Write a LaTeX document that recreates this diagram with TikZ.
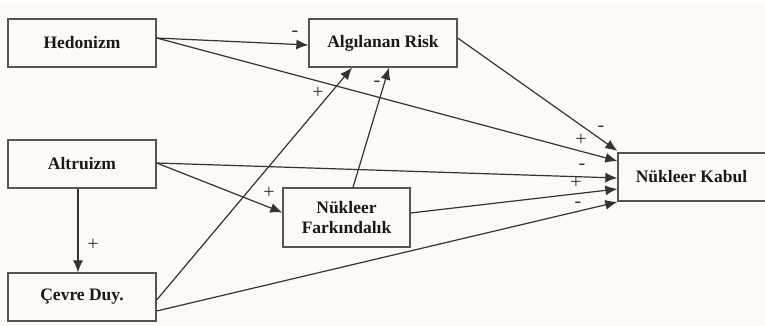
\documentclass[tikz,border=0pt]{standalone}
\usepackage{fontspec}
\setmainfont{Liberation Serif}
\usetikzlibrary{arrows.meta}
\definecolor{bgc}{HTML}{FCF9F7}
\definecolor{linec}{HTML}{333333}
\definecolor{boxc}{HTML}{555555}
\begin{document}
\begin{tikzpicture}[x=1pt,y=-1pt,
  box/.style={draw=boxc,line width=1.3pt,fill=bgc,minimum width=148pt,minimum height=48pt,inner sep=0pt,
    font=\bfseries\fontsize{17.5}{20}\selectfont,text=black!90,align=center},
  conn/.style={draw=linec,line width=1.2pt,-{Latex[length=12pt,width=10pt]}},
  sgn/.style={font=\fontsize{20}{20}\selectfont,text=black!80,inner sep=0pt}]
\fill[bgc] (0,0) rectangle (765,326);
\fill[white] (0,0) rectangle (765,4);
\useasboundingbox (0,0) rectangle (765,326);
\node[box] (hed) at (82,43) {Hedonizm};
\node[box] (risk) at (383,43) {Algılanan Risk};
\node[box] (alt) at (82,164) {Altruizm};
\node[box] (cev) at (82,297) {Çevre Duy.};
\node[box,minimum width=127pt,minimum height=59pt] (fark) at (346.5,217.5) {Nükleer\\Farkındalık};
\node[box,minimum width=152pt] (kab) at (694,177) {\hspace*{-5pt}Nükleer Kabul};
% connectors
\draw[conn] ([yshift=5pt]hed.east) -- ([yshift=-2pt]risk.west);
\draw[conn] ([yshift=5pt]hed.east) -- ([yshift=16pt]kab.west);
\draw[conn] ([yshift=5pt]risk.east) -- ([yshift=26pt]kab.west);
\draw[conn] ([yshift=1pt]alt.east) -- ([yshift=-1pt]kab.west);
\draw[conn] ([yshift=1pt]alt.east) -- ([yshift=5pt]fark.west);
\draw[conn] ([xshift=-4pt]alt.south) -- ([xshift=-4pt]cev.north);
\draw[conn] ([yshift=-3pt]cev.east) -- ([xshift=-31pt]risk.south);
\draw[conn] ([yshift=-14pt]cev.east) -- ([yshift=-25pt]kab.west);
\draw[conn] ([xshift=6.5pt]fark.north) -- ([xshift=6pt]risk.south);
\draw[conn] ([yshift=4.5pt]fark.east) -- ([yshift=-12pt]kab.west);
% signs
\node[sgn] (s1) at (295,34) {-};
\node[sgn] (s2) at (318,93) {+};
\node[sgn] (s3) at (377,84) {-};
\node[sgn] (s4) at (269,193) {+};
\node[sgn] (s5) at (93,245) {+};
\node[sgn] (s6) at (601,129) {-};
\node[sgn] (s7) at (581,140) {+};
\node[sgn] (s8) at (582,167) {-};
\node[sgn] (s9) at (576,183) {+};
\node[sgn] (s10) at (578,205) {-};
\end{tikzpicture}
\end{document}
